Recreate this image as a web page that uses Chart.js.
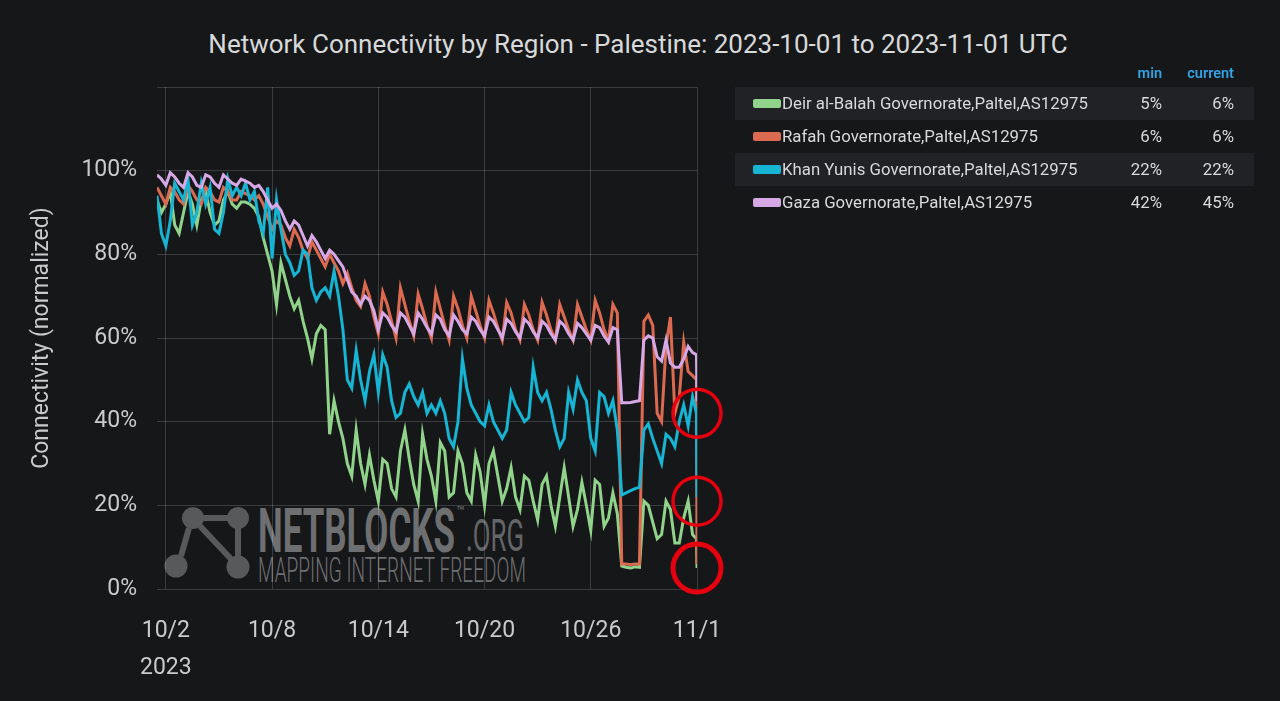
<!DOCTYPE html>
<html>
<head>
<meta charset="utf-8">
<script src="https://cdn.jsdelivr.net/npm/chart.js@4.4.0/dist/chart.umd.min.js"></script>
<style>
  html, body { margin:0; padding:0; background:#161719; width:1280px; height:701px; overflow:hidden; font-family: Roboto, "Noto Sans", sans-serif; }
  #wrap { position:relative; width:1280px; height:701px; }
  #chart { position:absolute; left:0; top:0; z-index:2; }
  #title { position:absolute; left:0; top:31px; width:1276px; text-align:center; color:#d8d9da; font-size:26px; line-height:1; white-space:nowrap; }
  .wm { position:absolute; white-space:nowrap; line-height:1; color:#6e6f71; transform-origin:0 0; display:inline-block; z-index:1; }
  #logo { position:absolute; left:160px; top:500px; z-index:1; }
  #legend { position:absolute; left:735px; top:0; width:519px; height:230px; z-index:3; }
  .hdr { position:absolute; top:66px; font-size:14.5px; font-weight:600; color:#33a2e5; line-height:16px; }
  .row { position:absolute; left:0; width:519px; height:33px; }
  .row.alt { background:#202226; }
  .sw { position:absolute; left:18px; top:12px; width:28px; height:9px; border-radius:2px; }
  .nm { position:absolute; left:47px; top:0; line-height:33px; font-size:16.8px; color:#d8d9da; white-space:nowrap; }
  .v1, .v2 { position:absolute; top:0; line-height:33px; font-size:16.8px; color:#d8d9da; text-align:right; }
  .v1 { right:92px; }
  .v2 { right:20px; }
</style>
</head>
<body>
<div id="wrap">
  <div id="title"></div>
  <svg id="logo" width="100" height="85" viewBox="160 500 100 85">
    <g fill="#58595b" stroke="#58595b" stroke-width="6" stroke-linecap="butt">
      <line x1="203" y1="518" x2="228" y2="518"/>
      <line x1="189" y1="528" x2="181" y2="556"/>
      <line x1="200" y1="526" x2="231" y2="559"/>
      <line x1="238" y1="528" x2="238" y2="557"/>
      <circle cx="193" cy="518" r="11" stroke="none"/>
      <circle cx="238" cy="518" r="11" stroke="none"/>
      <circle cx="176" cy="566" r="11.5" stroke="none"/>
      <circle cx="238" cy="567" r="11.5" stroke="none"/>
    </g>
  </svg>
  <span class="wm" id="wm1" style="left:258px; top:500px; font-size:62px; font-weight:700;">NETBLOCKS</span>
  <span class="wm" id="wm2" style="left:456px; top:504px; font-size:14px;">™</span>
  <span class="wm" id="wm3" style="left:466px; top:513px; font-size:45px; font-weight:400; color:#646567;">.ORG</span>
  <span class="wm" id="wm4" style="left:258px; top:553px; font-size:35px; font-weight:300;">MAPPING INTERNET FREEDOM</span>
  <canvas id="chart" width="1280" height="701"></canvas>
  <div id="legend"></div>
</div>
<script>
// ---------- data ----------
const chartTitle = 'Network Connectivity by Region - Palestine: 2023-10-01 to 2023-11-01 UTC';
const seriesNames = [
  'Deir al-Balah Governorate,Paltel,AS12975',
  'Rafah Governorate,Paltel,AS12975',
  'Khan Yunis Governorate,Paltel,AS12975',
  'Gaza Governorate,Paltel,AS12975'
];
const seriesColors = ['#91d38b', '#dc6a50', '#16b5d4', '#d6a8e6'];
const legendMin = ['5%', '6%', '22%', '42%'];
const legendCurrent = ['6%', '6%', '22%', '45%'];

// time in days of October (10/1 00:00 = 1, 11/1 00:00 = 32):
// every 6 hours from 10/1 12:00 to 10/31 18:00, then the last readings just before and at 11/1 00:00
const startDay = 1.5;
const stepDay = 0.25;
const lastDays = [31.97, 32];
const tickDays = [2, 8, 14, 20, 26, 32];
const tickLabels = ['10/2', '10/8', '10/14', '10/20', '10/26', '11/1'];
const yearLabel = '2023';
const yTicks = [0, 20, 40, 60, 80, 100];

const deirBalah = [
  93, 90,
  92, 95, 87, 85,
  90, 95, 92, 87,
  93, 95, 90, 87,
  88, 93, 95, 92,
  91, 92.5, 92.5, 92,
  91, 89, 84, 80,
  76, 68, 78, 74,
  70, 67, 69, 64,
  60, 55, 61, 63,
  62, 37, 45, 40,
  36, 30, 27, 38,
  30, 25, 32, 26,
  21, 31, 30, 24,
  22, 33, 38, 31,
  25, 21, 37, 31,
  27, 21, 35, 33,
  22, 23, 33, 30,
  23, 21, 32, 28,
  20, 30, 33, 27,
  21, 24, 29, 22,
  19, 27, 26, 21,
  16.5, 25, 27, 20,
  15, 22, 29, 22,
  15, 19, 25.5, 20,
  14, 26, 25, 15,
  17, 23, 18, 5.5,
  5.2, 5, 5.3, 5.2,
  21, 20, 16, 12,
  13, 21, 19, 11,
  11, 17, 21, 13,
  12, 5
];
const rafah = [
  96, 94,
  92, 96, 95, 93,
  92, 96.5, 95, 93,
  92, 96, 95, 93,
  92.5, 96, 95, 93,
  93, 95, 94.5, 94,
  93, 94, 92, 89,
  86, 88, 87, 84,
  82, 86, 84, 81,
  79, 83, 81, 79,
  77, 80, 78, 76,
  73, 75.5, 72, 69,
  67.5, 73, 70, 65,
  61, 71, 68, 64,
  60, 72, 68, 64,
  60.5, 70.5, 67, 63,
  60, 71, 67, 63,
  59.5, 70, 67, 63,
  60, 70, 66.5, 63,
  60, 69, 66, 62.5,
  59.5, 68.5, 66, 62,
  59.5, 68, 65.5, 62,
  59.5, 68.5, 65.5, 62,
  59.5, 68, 65, 62,
  59.5, 68, 65, 62,
  59.5, 69, 66, 62,
  59.5, 68, 66, 6,
  6, 5.8, 6, 6,
  64, 65.5, 63, 42,
  40, 58, 65, 42,
  46, 59, 52, 51,
  50, 6
];
const khanYunis = [
  94, 85,
  82, 88, 97, 95,
  93, 98, 87, 90,
  97, 92, 96, 86,
  85, 90, 98, 94,
  96, 94, 97, 93,
  95, 88, 85, 96,
  79, 93, 86, 80,
  78, 75, 76, 81,
  80, 72, 69, 71,
  72, 70, 76, 70,
  62, 50, 48, 57,
  50, 45, 52, 56,
  47, 56, 53, 45,
  41, 42, 47, 49,
  46, 44, 47, 42,
  44, 42, 45, 42,
  36, 34, 40, 55,
  48, 44, 42, 40,
  39, 44, 40, 38,
  36, 38, 47, 44,
  42, 40, 41, 53,
  47, 45, 47, 43,
  38, 34, 36, 47,
  43, 50, 47, 45,
  36, 33, 47, 46,
  42, 45, 38, 22.5,
  23, 23.5, 24, 24.3,
  38, 39.5, 36, 33,
  30, 37, 36, 34,
  40, 44, 39, 46,
  42, 22
];
const gaza = [
  99, 98,
  96.5, 99.5, 98.5, 97,
  96, 99.5, 98.5, 96.5,
  96, 99, 98.5, 97,
  96, 99, 98, 97,
  96.5, 98, 97.5, 97,
  96, 96.5, 95, 93,
  91, 92, 90.5, 88,
  86, 88, 87, 84.5,
  82, 84.5, 83, 81,
  79, 81, 80, 78.5,
  77, 74, 71, 70,
  68, 70, 69, 66.5,
  62, 66, 65, 63,
  61.5, 66, 65, 63,
  61, 66, 64.5, 62.5,
  61, 65.5, 64.5, 62,
  60.5, 65.5, 64, 62,
  61, 65, 64, 62,
  60.5, 65, 64, 62,
  60, 64.5, 63.5, 61.5,
  60, 64.5, 63.5, 61.5,
  60, 64, 63, 61,
  59.5, 64, 63, 61,
  59.5, 63.5, 62.5, 61,
  59.5, 63, 62.5, 60.5,
  59, 62.5, 62, 44.5,
  44.5, 44.6, 44.8, 45,
  59.5, 60.5, 60, 55.5,
  54.5, 59.5, 54, 53,
  53, 55, 58, 56.5,
  56, 45
];
const seriesValues = [deirBalah, rafah, khanYunis, gaza];
// red highlight circles drawn at the end of the period (value in %)
const markerDay = 32;
const markerValues = [42, 21, 5];

function dayAt(i, n) {
  const regular = n - lastDays.length;
  return i < regular ? startDay + i * stepDay : lastDays[i - regular];
}

// ---------- page texts ----------
document.getElementById('title').textContent = chartTitle;

const legend = document.getElementById('legend');
let html = '<div class="hdr" style="right:92px">min</div><div class="hdr" style="right:20px">current</div>';
seriesNames.forEach((n, i) => {
  html += '<div class="row' + (i % 2 === 0 ? ' alt' : '') + '" style="top:' + (87 + i * 33) + 'px">' +
    '<div class="sw" style="background:' + seriesColors[i] + '"></div>' +
    '<div class="nm">' + n + '</div>' +
    '<div class="v1">' + legendMin[i] + '</div>' +
    '<div class="v2">' + legendCurrent[i] + '</div></div>';
});
legend.innerHTML = html;

// fit watermark texts to their widths
[['wm1', 197], ['wm3', 58], ['wm4', 268]].forEach(([id, w]) => {
  const el = document.getElementById(id);
  const r = el.getBoundingClientRect().width;
  el.style.transform = 'scaleX(' + (w / r) + ')';
});

// ---------- chart ----------
Chart.defaults.font.family = 'Roboto, "Noto Sans", sans-serif';
const gridColor = 'rgba(255,255,255,0.16)';
const tickColor = '#c9cacc';

const markerPlugin = {
  id: 'markers',
  afterDatasetsDraw(chart) {
    const { ctx, scales } = chart;
    ctx.save();
    ctx.strokeStyle = '#e4000f';
    markerValues.forEach((v, i) => {
      ctx.lineWidth = i === markerValues.length - 1 ? 5 : 3.5;
      ctx.beginPath();
      ctx.arc(scales.x.getPixelForValue(markerDay), scales.y.getPixelForValue(v), 24, 0, Math.PI * 2);
      ctx.stroke();
    });
    ctx.restore();
  }
};

const datasets = seriesNames.map((name, si) => ({
  label: name,
  data: seriesValues[si].map((v, i, arr) => ({ x: dayAt(i, arr.length), y: v })),
  borderColor: seriesColors[si],
  backgroundColor: seriesColors[si],
  borderWidth: 3,
  pointRadius: 0,
  tension: 0,
  fill: false,
  order: [4, 3, 2, 1][si]
}));

new Chart(document.getElementById('chart'), {
  type: 'line',
  data: { datasets },
  plugins: [markerPlugin],
  options: {
    responsive: false,
    animation: false,
    devicePixelRatio: 1,
    layout: { padding: { top: 87, right: 583, bottom: 0, left: 0 } },
    plugins: { legend: { display: false }, tooltip: { enabled: false }, title: { display: false } },
    scales: {
      x: {
        type: 'linear',
        min: 1.5,
        max: 32,
        afterBuildTicks: (ax) => { ax.ticks = tickDays.map(v => ({ value: v })); },
        afterFit: (s) => { s.height = 112; s.paddingLeft = 0; s.paddingRight = 0; },
        ticks: {
          color: tickColor,
          font: { size: 23, lineHeight: 1.6 },
          padding: 24,
          maxRotation: 0,
          autoSkip: false,
          callback: (v, i) => (i === 0 ? [tickLabels[0], yearLabel] : tickLabels[i])
        },
        grid: { color: gridColor, lineWidth: 1, drawTicks: false },
        border: { display: false }
      },
      y: {
        type: 'linear',
        min: 0,
        max: 120,
        afterBuildTicks: (ax) => { ax.ticks = yTicks.concat([120]).map(v => ({ value: v })); },
        afterFit: (s) => { s.width = 157; s.paddingTop = 0; s.paddingBottom = 0; },
        ticks: {
          color: tickColor,
          font: { size: 23 },
          padding: 20,
          callback: (v) => (yTicks.includes(v) ? v + '%' : '')
        },
        title: {
          display: true,
          text: 'Connectivity (normalized)',
          color: tickColor,
          font: { size: 23 },
          padding: { top: 28, bottom: 0 }
        },
        grid: { color: gridColor, lineWidth: 1, drawTicks: false },
        border: { display: false }
      }
    }
  }
});
</script>
</body>
</html>
